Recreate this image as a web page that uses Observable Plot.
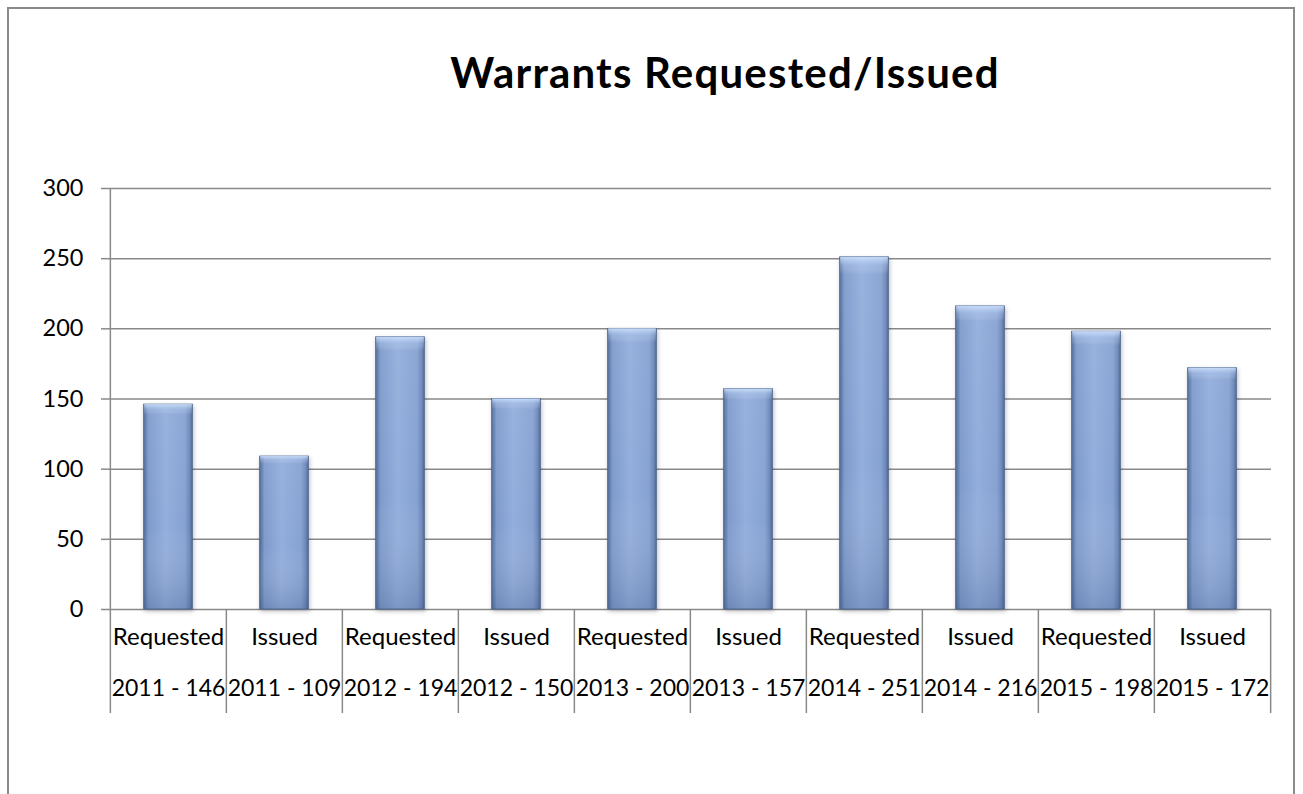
<!DOCTYPE html>
<html>
<head>
<meta charset="utf-8">
<script src="https://cdn.jsdelivr.net/npm/d3@7"></script>
<script src="https://cdn.jsdelivr.net/npm/@observablehq/plot@0.6"></script>
<style>
  html, body { margin: 0; padding: 0; background: #fff; width: 1303px; height: 794px; overflow: hidden; }
  #frame { position: absolute; left: 7px; top: 7px; width: 1288px; height: 820px; border: 2px solid #8a8a8a; box-sizing: border-box; }
  #title { position: absolute; left: 325px; width: 800px; top: 51px; text-align: center; font-family: Lato, sans-serif; font-weight: bold; font-size: 42px; letter-spacing: 1.2px; line-height: 1; color: #000; white-space: nowrap; }
  #chart { position: absolute; left: 0; top: 0; }
</style>
</head>
<body>
<div id="frame"></div>
<div id="chart"></div>
<div id="title">Warrants Requested/Issued</div>
<script>
const kinds = ["Requested", "Issued", "Requested", "Issued", "Requested", "Issued", "Requested", "Issued", "Requested", "Issued"];
const years = [2011, 2011, 2012, 2012, 2013, 2013, 2014, 2014, 2015, 2015];
const values = [146, 109, 194, 150, 200, 157, 251, 216, 198, 172];
const yTicks = [0, 50, 100, 150, 200, 250, 300];

const data = kinds.map((k, i) => ({kind: k, year: years[i], value: values[i], label: `${years[i]} - ${values[i]}`}));
const labels = data.map(d => d.label);

const W = 1303, H = 794, mL = 108, mR = 32, mT = 188, mB = 185;
const step = (W - mL - mR) / labels.length;
const barW = 49;
const inset = (step - barW) / 2;
const gridColor = "#898989";

const chart = Plot.plot({
  width: W, height: H,
  marginTop: mT, marginBottom: mB, marginLeft: mL, marginRight: mR,
  style: {fontFamily: "Lato, sans-serif", fontSize: "23px", color: "#000", background: "transparent", overflow: "visible"},
  x: {type: "band", domain: labels, padding: 0, axis: null},
  y: {domain: [0, 300], axis: null},
  marks: [
    Plot.ruleY(yTicks, {stroke: gridColor, strokeWidth: 1.5}),
    Plot.axisY({ticks: yTicks, tickSize: 7, tickPadding: 18, stroke: gridColor, strokeWidth: 1.5, label: null, fontSize: 23.5}),
    Plot.ruleX([labels[0]], {dx: -step / 2, stroke: gridColor, strokeWidth: 1.5}),
    Plot.axisX({ticks: labels, tickSize: 104, dx: -step / 2, tickFormat: () => "", stroke: gridColor, strokeWidth: 1.5, label: null}),
    Plot.axisX({ticks: [labels[labels.length - 1]], tickSize: 104, dx: step / 2, tickFormat: () => "", stroke: gridColor, strokeWidth: 1.5, label: null}),
    Plot.barY(data, {x: "label", y: "value", fill: "url(#barGrad)", insetLeft: inset, insetRight: inset, stroke: "#4c6690", strokeWidth: 0.8}),
    Plot.barY(data, {x: "label", y: "value", fill: "url(#barShade)", insetLeft: inset + 0.5, insetRight: inset + 0.5}),
    Plot.text(data, {x: "label", text: "kind", frameAnchor: "bottom", dy: 35, fontSize: 24}),
    Plot.text(data, {x: "label", text: "label", frameAnchor: "bottom", dy: 86, fontSize: 23})
  ]
});

const ns = "http://www.w3.org/2000/svg";
const defs = document.createElementNS(ns, "defs");
defs.innerHTML = `
  <linearGradient id="barGrad" x1="0" y1="0" x2="1" y2="0">
    <stop offset="0" stop-color="#4f6a98"/>
    <stop offset="0.1" stop-color="#7f9bcc"/>
    <stop offset="0.45" stop-color="#93aedc"/>
    <stop offset="0.85" stop-color="#86a2d2"/>
    <stop offset="0.95" stop-color="#6a85b6"/>
    <stop offset="1" stop-color="#4a6490"/>
  </linearGradient>
  <linearGradient id="barShade" x1="0" y1="0" x2="0" y2="1">
    <stop offset="0" stop-color="#d4e6ff" stop-opacity="0.85"/>
    <stop offset="0.025" stop-color="#c0d6f6" stop-opacity="0.35"/>
    <stop offset="0.05" stop-color="#ffffff" stop-opacity="0.05"/>
    <stop offset="0.6" stop-color="#ffffff" stop-opacity="0"/>
    <stop offset="1" stop-color="#2c4470" stop-opacity="0.22"/>
  </linearGradient>
  <filter id="shadow" x="-20%" y="-5%" width="140%" height="110%">
    <feDropShadow dx="1" dy="2" stdDeviation="2" flood-color="#000" flood-opacity="0.25"/>
  </filter>`;
chart.insertBefore(defs, chart.firstChild);
const barGroups = chart.querySelectorAll('g[aria-label="bar"]');
if (barGroups.length) barGroups[0].setAttribute("filter", "url(#shadow)");
document.getElementById("chart").appendChild(chart);
</script>
</body>
</html>
